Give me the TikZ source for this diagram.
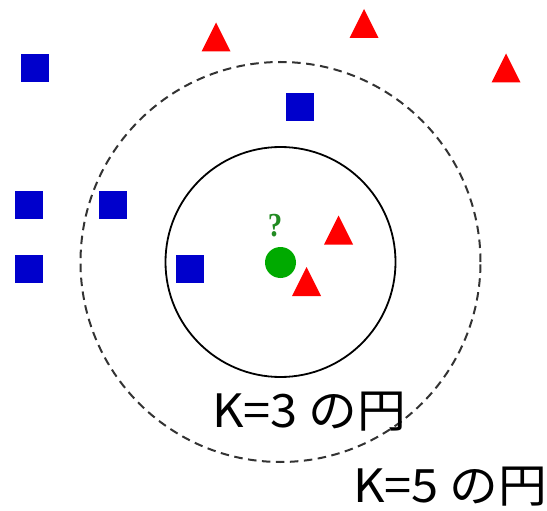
\documentclass[tikz,border=0pt]{standalone}
\usepackage{fontspec}
\newfontfamily\cjkfont{Noto Sans CJK JP}
\newfontfamily\qfont{Liberation Serif}
\definecolor{sqblue}{HTML}{0000CC}
\definecolor{trired}{HTML}{FF0000}
\definecolor{dotgreen}{HTML}{00AA00}
\definecolor{qgreen}{HTML}{228B22}
\tikzset{
  sqnode/.style={fill=sqblue, draw=none, minimum size=28pt, inner sep=0pt},
  dotnode/.style={circle, fill=dotgreen, draw=none, minimum size=31pt, inner sep=0pt},
  labelnode/.style={anchor=base west, inner sep=0pt, font=\cjkfont\fontsize{46}{50}\selectfont},
  ring/.style={draw=black, line width=1.8pt},
  dashring/.style={draw=black!80, line width=2pt, dash pattern=on 8.5pt off 5.5pt}
}
\newcommand\tri[2]{\fill[trired] (#1) ++(-14.5,14.5) -- ++(29,0) -- ++(-14.5,-29) -- cycle; \coordinate (#2) at (#1);}
\begin{document}
\begin{tikzpicture}[x=1pt,y=-1pt]
\useasboundingbox (0,0) rectangle (547,511);
% circles
\coordinate (c) at (280.5,262);
\draw[dashring] (c) circle[radius=200pt];
\draw[ring] (c) circle[radius=115pt];
% squares
\node[sqnode] (s1) at (35,68.5) {};
\node[sqnode] (s2) at (299.5,107.5) {};
\node[sqnode] (s3) at (29,204.5) {};
\node[sqnode] (s4) at (113,204.5) {};
\node[sqnode] (s5) at (29,268.5) {};
\node[sqnode] (s6) at (190,269) {};
% triangles
\tri{216,37}{t1}
\tri{364,23.5}{t2}
\tri{506,68}{t3}
\tri{338.5,230}{t4}
\tri{306.5,281.5}{t5}
% query point
\node[dotnode] (q) at (280.5,262.5) {};
\node[text=qgreen, inner sep=0pt, font=\qfont\bfseries\fontsize{32}{34}\selectfont] (qm) at (275,226) {\scalebox{0.9}[1.05]{?}};
% labels
\node[labelnode] (k3) at (212,427) {\scalebox{1.06}[1]{K=3 の円}};
\node[labelnode] (k5) at (353,502) {\scalebox{1.06}[1]{K=5 の円}};
\end{tikzpicture}
\end{document}
